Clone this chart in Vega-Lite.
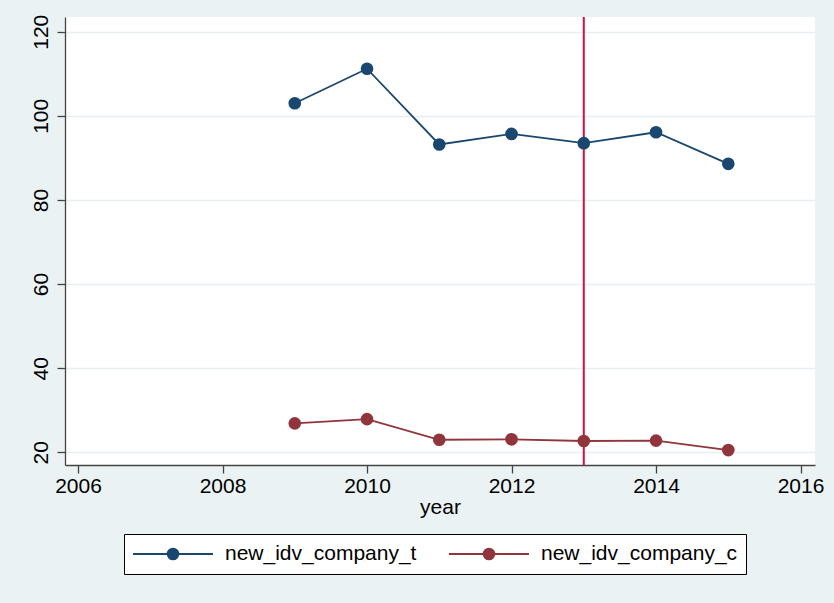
{
  "$schema": "https://vega.github.io/schema/vega-lite/v6.json",
  "autosize": {"type": "none"},
  "width": 750,
  "height": 448,
  "padding": {"left": 65, "top": 17, "right": 19, "bottom": 138},
  "background": "#EAF2F3",
  "config": {
    "font": "Liberation Sans",
    "view": {"fill": "white", "stroke": null}
  },
  "datasets": {
    "main": [
      {"year": 2009, "series": "new_idv_company_t", "value": 103.0},
      {"year": 2010, "series": "new_idv_company_t", "value": 111.2},
      {"year": 2011, "series": "new_idv_company_t", "value": 93.2},
      {"year": 2012, "series": "new_idv_company_t", "value": 95.7},
      {"year": 2013, "series": "new_idv_company_t", "value": 93.5},
      {"year": 2014, "series": "new_idv_company_t", "value": 96.1},
      {"year": 2015, "series": "new_idv_company_t", "value": 88.6},
      {"year": 2009, "series": "new_idv_company_c", "value": 26.9},
      {"year": 2010, "series": "new_idv_company_c", "value": 27.9},
      {"year": 2011, "series": "new_idv_company_c", "value": 23.0},
      {"year": 2012, "series": "new_idv_company_c", "value": 23.1},
      {"year": 2013, "series": "new_idv_company_c", "value": 22.7},
      {"year": 2014, "series": "new_idv_company_c", "value": 22.8},
      {"year": 2015, "series": "new_idv_company_c", "value": 20.55}
    ],
    "vline": [{"year": 2013}]
  },
  "layer": [
    {
      "data": {"name": "vline"},
      "mark": {"type": "rule", "color": "#d80f3c", "strokeWidth": 2},
      "encoding": {
        "x": {"field": "year", "type": "quantitative", "scale": {"domain": [2005.82, 2016.2], "nice": false, "zero": false}}
      }
    },
    {
      "data": {"name": "main"},
      "encoding": {
        "x": {
          "field": "year", "type": "quantitative",
          "scale": {"domain": [2005.82, 2016.2], "nice": false, "zero": false},
          "axis": {
            "values": [2006, 2008, 2010, 2012, 2014, 2016],
            "format": "d",
            "title": "year",
            "grid": false,
            "domainColor": "#444444", "domainWidth": 1.3,
            "tickColor": "#444444", "tickWidth": 1.3, "tickSize": 8,
            "labelFontSize": 21, "labelColor": "#000000", "labelPadding": 2,
            "titleFontSize": 21, "titleFontWeight": "normal", "titleColor": "#000000", "titlePadding": 0
          }
        },
        "y": {
          "field": "value", "type": "quantitative",
          "scale": {"domain": [17, 123.5], "nice": false, "zero": false},
          "axis": {
            "values": [20, 40, 60, 80, 100, 120],
            "title": null,
            "grid": true, "gridColor": "#E6EEF1", "gridWidth": 1.5,
            "domainColor": "#444444", "domainWidth": 1.3,
            "tickColor": "#444444", "tickWidth": 1.3, "tickSize": 8,
            "labelFontSize": 21, "labelColor": "#000000", "labelAngle": -90,
            "labelAlign": "center", "labelBaseline": "alphabetic", "labelPadding": 10
          }
        },
        "color": {
          "field": "series", "type": "nominal",
          "scale": {"domain": ["new_idv_company_t", "new_idv_company_c"], "range": ["#1a476f", "#90353b"]},
          "legend": {
            "title": null,
            "orient": "none",
            "legendX": 59,
            "legendY": 517,
            "direction": "horizontal",
            "strokeColor": "#000000",
            "fillColor": "#ffffff",
            "padding": 8,
            "columnPadding": 31,
            "labelFontSize": 21,
            "labelColor": "#000000",
            "labelOffset": 11,
            "labelLimit": 0,
            "symbolType": "M-1,0H1M-0.135,0A0.135,0.135,0,1,0,0.135,0A0.135,0.135,0,1,0,-0.135,0Z",
            "symbolSize": 6400,
            "symbolStrokeWidth": 1.8,
            "clipHeight": 24,
            "encode": {
              "symbols": {
                "update": {
                  "fill": {"scale": "color", "field": "value"},
                  "stroke": {"scale": "color", "field": "value"},
                  "opacity": {"value": 1}
                }
              }
            }
          }
        }
      },
      "layer": [
        {"mark": {"type": "line", "strokeWidth": 1.8}},
        {"mark": {"type": "point", "filled": true, "size": 160, "opacity": 1}}
      ]
    }
  ]
}
